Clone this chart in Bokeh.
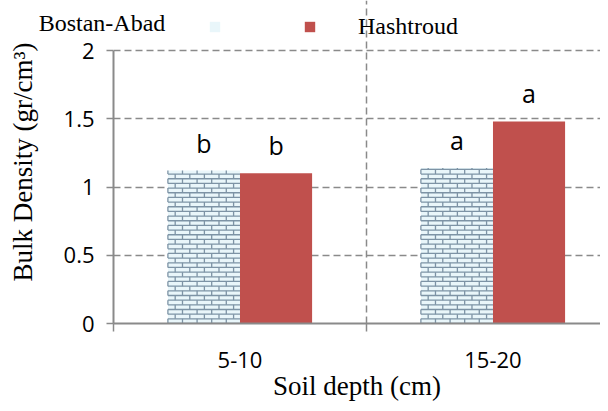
import numpy as np
from bokeh.plotting import figure
from bokeh.models import (Range1d, FixedTicker, NumeralTickFormatter, Legend, LegendItem,
                          LinearAxis, ColumnDataSource)
from bokeh.transform import dodge
from bokeh.core.properties import value
from bokeh.embed import file_html
from bokeh.resources import INLINE

categories = ["5-10", "15-20"]
series_names = ["Bostan-Abad", "Hashtroud"]
bostan = [1.12, 1.14]
hashtroud = [1.10, 1.48]
bostan_letters = ["b", "a"]
hashtroud_letters = ["b", "a"]
y_ticks = [0, 0.5, 1, 1.5, 2]

x_centers = [i + 0.5 for i in range(len(categories))]
src = ColumnDataSource(dict(x=x_centers, bostan=bostan, hashtroud=hashtroud,
                            bl=bostan_letters, hl=hashtroud_letters))

# frame reaches the top of the canvas so the legend row sits inside it
y_top = y_ticks[-1] + 50 * (y_ticks[-1] / 273.0)
p = figure(width=600, height=403, output_backend="svg", toolbar_location=None,
           x_range=Range1d(0, 1.925), y_range=Range1d(0, y_top),
           min_border_left=113, min_border_right=0, min_border_top=0, min_border_bottom=80)
p.outline_line_color = None
p.background_fill_color = "white"

bw = 0.285
brick_fill = "#e9f6fa"
brick_line = "#7d93a5"
r1 = p.vbar(x=dodge("x", -bw / 2, range=p.x_range), top="bostan", width=bw, source=src,
            fill_color=brick_fill, line_color=None)
r2 = p.vbar(x=dodge("x", bw / 2, range=p.x_range), top="hashtroud", width=bw, source=src,
            fill_color="#c0504d", line_color=None)

# brick texture of the Bostan-Abad bars, built from the bar geometry
px_x = 1 / 253.0
px_y = 2 / 273.0
row_h = 4.67 * px_y
brick_w = 14.6 * px_x
bx0, bx1, by0, by1 = [], [], [], []
for c, v in zip(x_centers, bostan):
    left, right = c - bw, c
    nrows = int(np.ceil(v / row_h))
    for k in range(nrows):
        y0 = k * row_h
        y1 = min((k + 1) * row_h, v)
        bx0.append(left); bx1.append(right); by0.append(y0); by1.append(y0)
        xv = left + (brick_w / 2 if k % 2 else 0)
        while xv < right - 1e-9:
            bx0.append(xv); bx1.append(xv); by0.append(y0); by1.append(y1)
            xv += brick_w
p.segment(x0=bx0, y0=by0, x1=bx1, y1=by1, line_color=brick_line, line_width=1.3)

p.text(x=dodge("x", -bw / 2, range=p.x_range), y="bostan", text="bl", source=src,
       text_align="center", text_baseline="alphabetic", y_offset=-28,
       text_font=value("Open Sans"), text_font_size="25px", text_color="black")
p.text(x=dodge("x", bw / 2, range=p.x_range), y="hashtroud", text="hl", source=src,
       text_align="center", text_baseline="alphabetic", y_offset=-28,
       text_font=value("Open Sans"), text_font_size="25px", text_color="black")

axis_color = "#8a8a8a"
# y axis
p.yaxis.ticker = FixedTicker(ticks=y_ticks)
p.yaxis.bounds = (y_ticks[0], y_ticks[-1])
p.yaxis.formatter = NumeralTickFormatter(format="0.[0]")
p.yaxis.axis_line_color = axis_color
p.yaxis.axis_line_width = 2
p.yaxis.major_tick_line_color = axis_color
p.yaxis.major_tick_line_width = 1.5
p.yaxis.major_tick_out = 7
p.yaxis.major_tick_in = 0
p.yaxis.minor_tick_line_color = None
p.yaxis.major_label_text_font = "Open Sans"
p.yaxis.major_label_text_font_size = "22px"
p.yaxis.major_label_text_color = "black"
p.yaxis.major_label_standoff = 12
p.yaxis.axis_label = "Bulk Density (gr/cm\u00b3)"
p.yaxis.axis_label_text_font = "Liberation Serif"
p.yaxis.axis_label_text_font_style = "normal"
p.yaxis.axis_label_text_font_size = "27px"
p.yaxis.axis_label_text_color = "black"
p.yaxis.axis_label_standoff = 23

# x axis
p.xaxis.ticker = FixedTicker(ticks=x_centers, minor_ticks=list(range(len(categories) + 1)))
p.xaxis.major_label_overrides = {x: c for x, c in zip(x_centers, categories)}
p.xaxis.axis_line_color = axis_color
p.xaxis.axis_line_width = 2
p.xaxis.major_tick_line_color = None
p.xaxis.major_tick_out = 0
p.xaxis.major_tick_in = 0
p.xaxis.minor_tick_line_color = axis_color
p.xaxis.minor_tick_line_width = 1.5
p.xaxis.minor_tick_out = 8
p.xaxis.minor_tick_in = 0
p.xaxis.major_label_text_font = "Open Sans"
p.xaxis.major_label_text_font_size = "22px"
p.xaxis.major_label_text_color = "black"
p.xaxis.major_label_standoff = 20
p.xaxis.axis_label = "Soil depth (cm)"
p.xaxis.axis_label_text_font = "Liberation Serif"
p.xaxis.axis_label_text_font_style = "normal"
p.xaxis.axis_label_text_font_size = "27px"
p.xaxis.axis_label_text_color = "black"
p.xaxis.axis_label_standoff = 0

# grids
p.ygrid.ticker = FixedTicker(ticks=y_ticks)
p.ygrid.grid_line_color = axis_color
p.ygrid.grid_line_dash = "7 4"
p.ygrid.grid_line_width = 1.5
p.xgrid.ticker = FixedTicker(ticks=list(range(1, len(categories))))
p.xgrid.grid_line_color = axis_color
p.xgrid.grid_line_dash = "7 4"
p.xgrid.grid_line_width = 1.5

# legend row: the first series name sits left of the frame, drawn as the label of an
# otherwise empty axis above the plot (padded with no-break spaces to move it left)
name_axis = LinearAxis(ticker=FixedTicker(ticks=[]),
                       axis_label=series_names[0] + "\u00a0" * 85, axis_line_color=None,
                       major_tick_out=0, major_tick_in=0, minor_tick_out=0, minor_tick_in=0,
                       major_label_standoff=0, axis_label_standoff=-35,
                       axis_label_text_font="Liberation Serif",
                       axis_label_text_font_size="24px", axis_label_text_font_style="normal",
                       axis_label_text_color="black")
p.add_layout(name_axis, "above")

legend = Legend(items=[LegendItem(label=" ", renderers=[r1]),
                       LegendItem(label=series_names[1], renderers=[r2])],
                orientation="horizontal", location=(95, 283),
                glyph_width=13, glyph_height=13, padding=0, margin=0, spacing=39,
                label_standoff=42, label_width=1, label_height=1,
                label_text_font="Liberation Serif", label_text_font_size="24px",
                label_text_color="black",
                border_line_color=None, background_fill_alpha=0)
p.add_layout(legend)

open("out.html", "w").write(file_html(p, INLINE))
